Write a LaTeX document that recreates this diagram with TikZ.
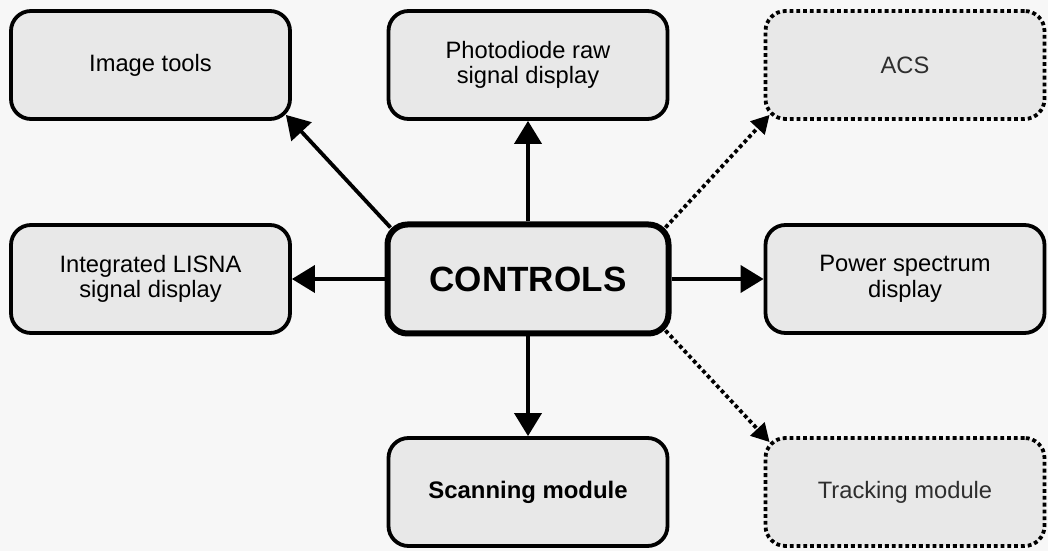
\documentclass[tikz,border=0pt]{standalone}
\usepackage{fontspec}
\setmainfont{Liberation Sans}
\usetikzlibrary{arrows.meta}
\begin{document}
\begin{tikzpicture}[>={Triangle[length=11.5bp,width=13.5bp]},line join=round,
    modbox/.style={draw=black,line width=1.9bp,rounded corners=10bp,fill=black!9,
      minimum width=139.5bp,minimum height=54bp,align=center,
      font=\fontsize{11.9}{12.9}\selectfont},
    optbox/.style={modbox,dash pattern=on 1.9bp off 1.5bp,text=black!82},
    mainbox/.style={modbox,line width=3bp,minimum width=140.5bp,minimum height=54.5bp,
      font=\fontsize{17.6}{20}\selectfont\bfseries},
    link/.style={->,line width=1.9bp},
    optlink/.style={-{Triangle[length=9bp,width=9.5bp]},line width=1.9bp,
      dash pattern=on 1.9bp off 1.5bp},
  ]
    %%
    \useasboundingbox (0bp,0bp) rectangle (524bp,275.5bp);
    \fill [black!3] (0bp,0bp) rectangle (524bp,275.5bp);
    %%
    \node (imgtools) at (75.25bp,243bp) [modbox] {Image tools};
    \node (photo) at (264bp,243bp) [modbox] {Photodiode raw\\signal display};
    \node (acs) at (452.5bp,243bp) [optbox] {ACS};
    \node (lisna) at (75.25bp,136bp) [modbox] {Integrated LISNA\\signal display};
    \node (ctrl) at (264bp,136bp) [mainbox] {CONTROLS};
    \node (power) at (452.5bp,136bp) [modbox] {Power spectrum\\display};
    \node (scan) at (264bp,29.5bp) [modbox,font=\fontsize{12}{13}\selectfont\bfseries] {Scanning module};
    \node (track) at (452.5bp,29.5bp) [optbox] {Tracking module};
    %%
    \draw [link] (ctrl) -- (photo);
    \draw [link] (ctrl) -- (scan);
    \draw [link] (ctrl) -- (lisna);
    \draw [link] (ctrl) -- (power);
    \draw [link] ([shift={(3bp,-3bp)}]ctrl.north west) -- ([shift={(-3bp,3bp)}]imgtools.south east);
    \draw [optlink] ([shift={(-3bp,-3bp)}]ctrl.north east) -- ([shift={(3bp,3bp)}]acs.south west);
    \draw [optlink] ([shift={(-3bp,3bp)}]ctrl.south east) -- ([shift={(3bp,-3bp)}]track.north west);
    %
\end{tikzpicture}
\end{document}
